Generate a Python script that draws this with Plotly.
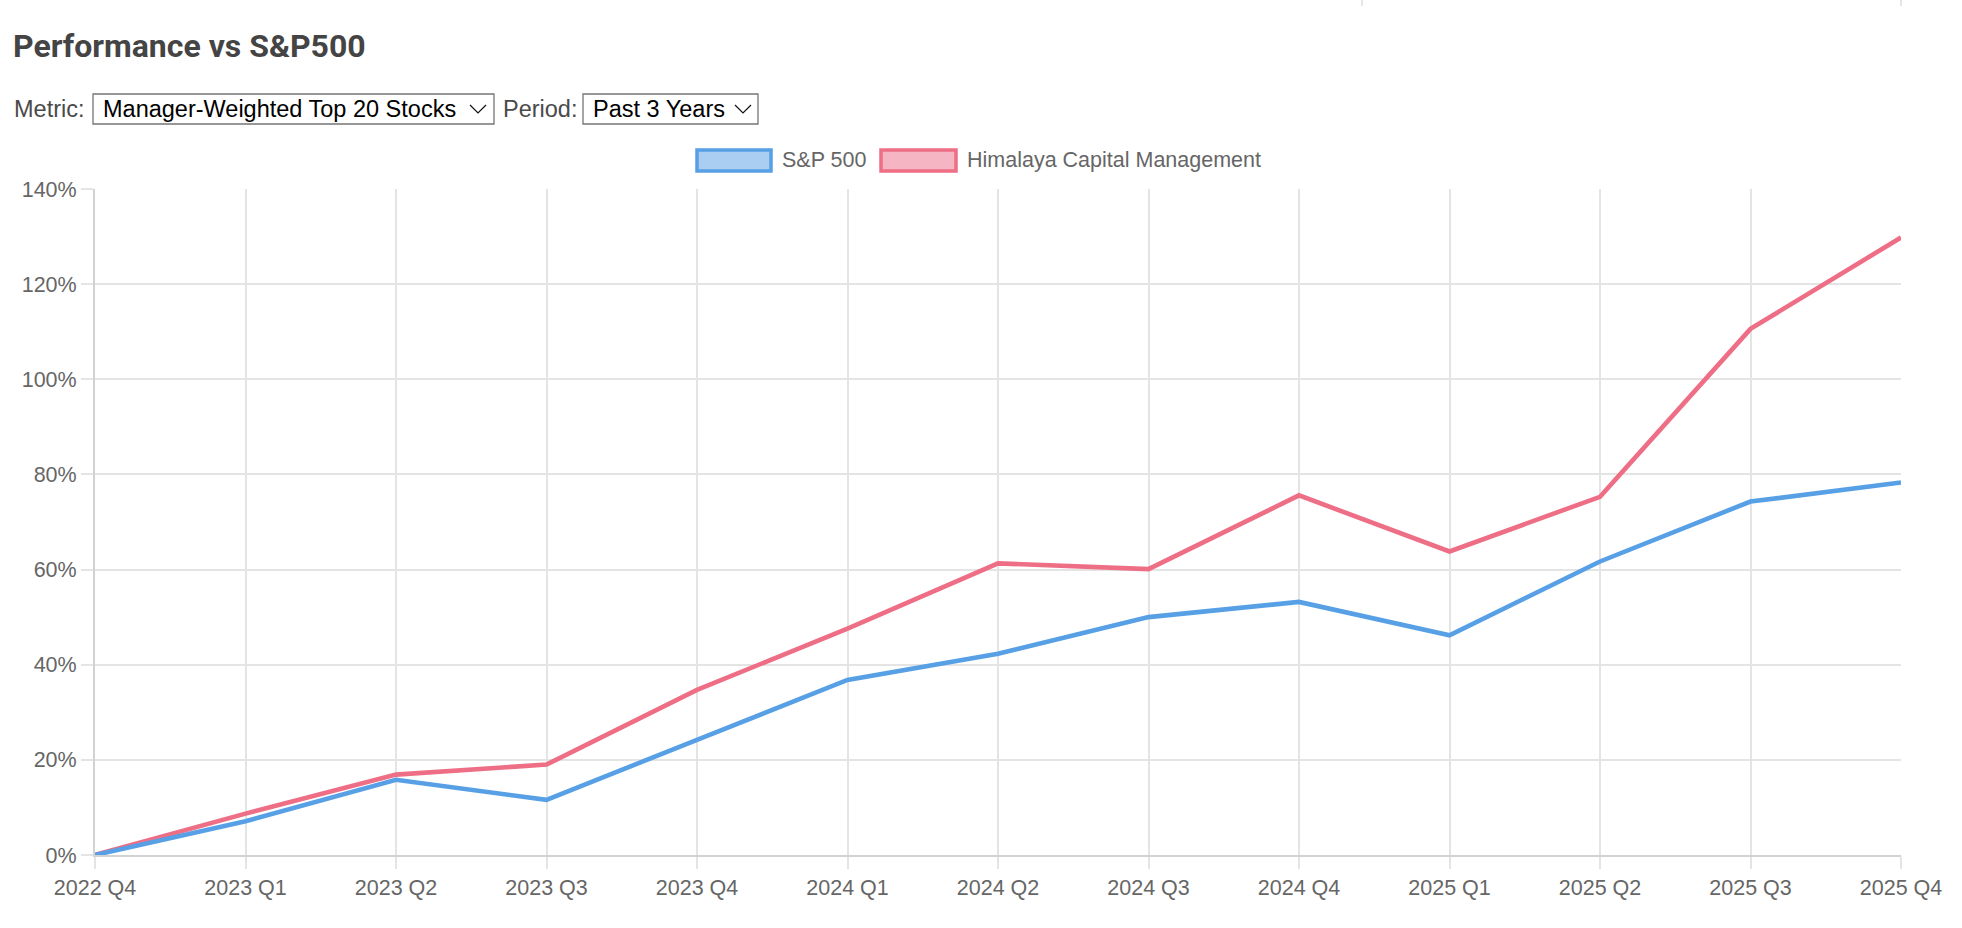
import plotly.graph_objects as go

quarters = ["2022 Q4", "2023 Q1", "2023 Q2", "2023 Q3", "2023 Q4", "2024 Q1", "2024 Q2",
            "2024 Q3", "2024 Q4", "2025 Q1", "2025 Q2", "2025 Q3", "2025 Q4"]
sp500 = [0, 7.1, 15.8, 11.6, 24.2, 36.8, 42.3, 50.0, 53.2, 46.2, 61.7, 74.3, 78.3]
himalaya = [0, 8.7, 16.9, 19.0, 34.7, 47.6, 61.3, 60.1, 75.6, 63.8, 75.3, 110.6, 129.8]
series_names = ["S&P 500", "Himalaya Capital Management"]
y_ticks = [0, 20, 40, 60, 80, 100, 120, 140]
y_tick_labels = ["0%", "20%", "40%", "60%", "80%", "100%", "120%", "140%"]

W, H = 1962, 928
ML, MR, MT, MB = 95, 61, 189, 73
PW, PH = W - ML - MR, H - MT - MB

def X(px):
    return (px - ML) / PW

def Y(py):
    return (H - MB - py) / PH

BLUE = "rgb(87,160,229)"
PINK = "rgb(238,110,134)"
BLUE_FILL = "rgb(170,206,242)"
PINK_FILL = "rgb(246,181,194)"
GRID = "#e4e4e4"
TXT = "#666666"
FONT = "Liberation Sans, Arial, sans-serif"

fig = go.Figure()
fig.add_trace(go.Scatter(x=quarters, y=himalaya, name=series_names[1], mode="lines",
                         line=dict(color=PINK, width=4.6)))
fig.add_trace(go.Scatter(x=quarters, y=sp500, name=series_names[0], mode="lines",
                         line=dict(color=BLUE, width=4.6)))

shapes = []
annotations = []

# Title
annotations.append(dict(text="<b>Performance vs S&amp;P500</b>", xref="paper", yref="paper",
                        x=X(11), y=Y(46), xanchor="left", yanchor="middle", showarrow=False,
                        font=dict(family="Roboto, sans-serif", size=32, color="#444444")))

# Controls row
row_y = 109
def label(text, px):
    annotations.append(dict(text=text, xref="paper", yref="paper", x=X(px), y=Y(row_y),
                            xanchor="left", yanchor="middle", showarrow=False,
                            font=dict(family=FONT, size=23.5, color="#4a4a4a")))

def select(x0, x1, text, chev_x):
    shapes.append(dict(type="rect", xref="paper", yref="paper", x0=X(x0), x1=X(x1),
                       y0=Y(124), y1=Y(94), line=dict(color="#767676", width=1.3),
                       fillcolor="white"))
    annotations.append(dict(text=text, xref="paper", yref="paper", x=X(x0 + 8), y=Y(row_y),
                            xanchor="left", yanchor="middle", showarrow=False,
                            font=dict(family=FONT, size=23.5, color="#000000")))
    path = "M {} {} L {} {} L {} {}".format(X(chev_x), Y(105), X(chev_x + 8), Y(113),
                                            X(chev_x + 16), Y(105))
    shapes.append(dict(type="path", xref="paper", yref="paper", path=path,
                       line=dict(color="#111111", width=1.2)))

label("Metric:", 12)
select(93, 494, "Manager-Weighted Top 20 Stocks", 470)
label("Period:", 501)
select(583, 758, "Past 3 Years", 735)

# Legend
def legend_item(bx0, bx1, tx, text, line_c, fill_c):
    shapes.append(dict(type="rect", xref="paper", yref="paper", x0=X(bx0), x1=X(bx1),
                       y0=Y(171), y1=Y(150), line=dict(color=line_c, width=3.5),
                       fillcolor=fill_c))
    annotations.append(dict(text=text, xref="paper", yref="paper", x=X(tx), y=Y(160),
                            xanchor="left", yanchor="middle", showarrow=False,
                            font=dict(family=FONT, size=21.5, color=TXT)))

legend_item(697, 771, 780, "S&amp;P 500", BLUE, BLUE_FILL)
legend_item(881, 956, 965, "Himalaya Capital Management", PINK, PINK_FILL)

# small marks at the top of the page
for mx in (1362, 1901):
    shapes.append(dict(type="line", xref="paper", yref="paper", x0=X(mx), x1=X(mx),
                       y0=Y(0), y1=Y(6), line=dict(color="#cccccc", width=1)))

fig.update_layout(
    width=W, height=H,
    margin=dict(l=ML, r=MR, t=MT, b=MB),
    paper_bgcolor="white", plot_bgcolor="white",
    showlegend=False,
    shapes=shapes, annotations=annotations,
    font=dict(family=FONT, size=21.5, color=TXT),
    hovermode="x",
)
fig.update_xaxes(type="category", range=[0, len(quarters) - 1], showgrid=True,
                 gridcolor=GRID, gridwidth=1.5, showline=True, linecolor="#d2d2d2",
                 linewidth=2, ticks="outside", ticklen=12, tickcolor=GRID, tickwidth=1.5,
                 tickfont=dict(family=FONT, size=21.5, color=TXT), tickangle=0,
                 zeroline=False, fixedrange=True)
fig.update_yaxes(range=[0, 140], tickmode="array", tickvals=y_ticks, ticktext=y_tick_labels,
                 showgrid=True, gridcolor=GRID, gridwidth=1.5, showline=True,
                 linecolor="#d2d2d2", linewidth=2, ticks="outside", ticklen=12,
                 tickcolor=GRID, tickwidth=1.5,
                 tickfont=dict(family=FONT, size=21.5, color=TXT), zeroline=False,
                 fixedrange=True)

fig.write_html("out.html", config={"displayModeBar": False},
               post_script="document.body.style.margin='0';document.body.style.overflow='hidden';")
